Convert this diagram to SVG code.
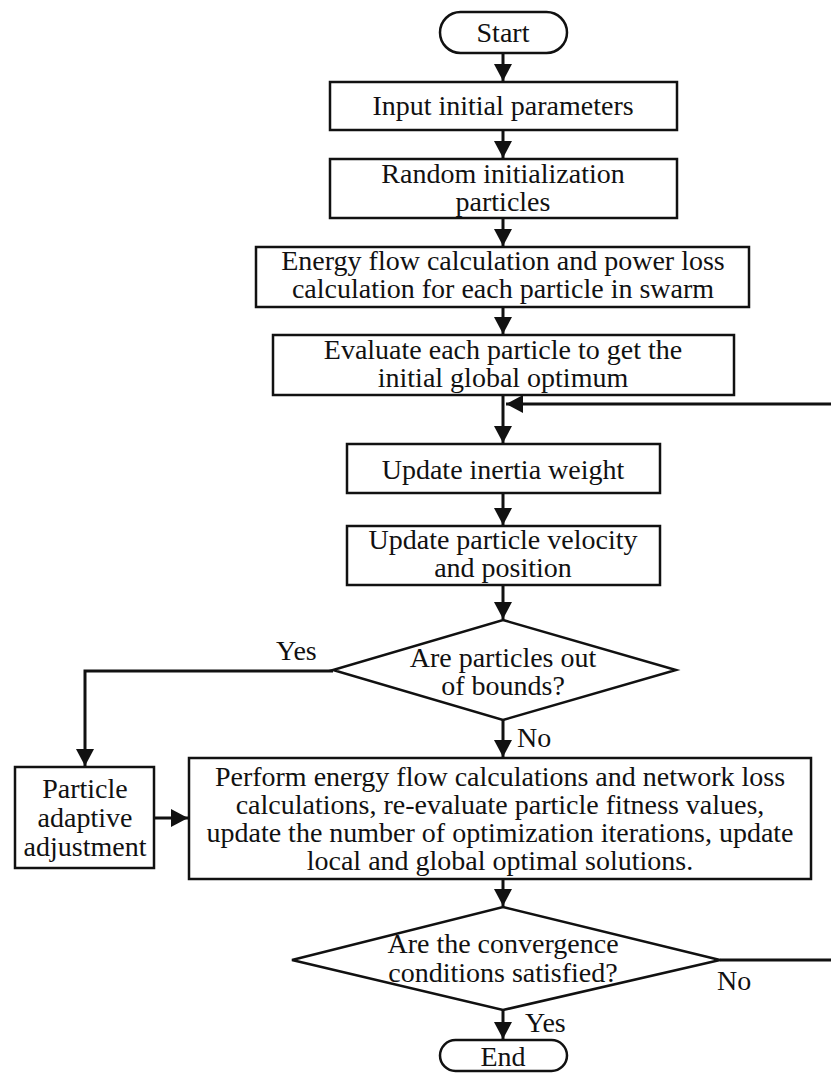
<svg xmlns="http://www.w3.org/2000/svg" width="831" height="1073" viewBox="0 0 831 1073">
  <style>
    .box { fill: #ffffff; stroke: #111111; stroke-width: 2.5; }
    .link { fill: none; stroke: #111111; stroke-width: 3; }
    text { font-family: "Liberation Serif", "Times New Roman", serif; font-size: 28px; fill: #111111; text-anchor: middle; }
    .lbl { text-anchor: start; }
  </style>
  <defs>
    <marker id="arrow" markerUnits="userSpaceOnUse" markerWidth="18" markerHeight="18" refX="17" refY="9" orient="auto">
      <path d="M0,0 L17,9 L0,18 z" fill="#111111"/>
    </marker>
  </defs>
  <rect width="831" height="1073" fill="#ffffff"/>

  <!-- connectors -->
  <g id="connectors">
    <path class="link" d="M503,53 V81" marker-end="url(#arrow)"/>
    <path class="link" d="M503,130 V158" marker-end="url(#arrow)"/>
    <path class="link" d="M503,218 V246" marker-end="url(#arrow)"/>
    <path class="link" d="M503,307 V334" marker-end="url(#arrow)"/>
    <path class="link" d="M503,395 V443" marker-end="url(#arrow)"/>
    <path class="link" d="M503,493 V525" marker-end="url(#arrow)"/>
    <path class="link" d="M503,585 V619" marker-end="url(#arrow)"/>
    <path class="link" d="M503,720 V757" marker-end="url(#arrow)"/>
    <path class="link" d="M333,671 H85 V766" marker-end="url(#arrow)"/>
    <path class="link" d="M154,818 H188" marker-end="url(#arrow)"/>
    <path class="link" d="M503,879 V906" marker-end="url(#arrow)"/>
    <path class="link" d="M503,1010 V1039" marker-end="url(#arrow)"/>
    <!-- loop back from the convergence check -->
    <path class="link" d="M720,960 H836 V404 H506" marker-end="url(#arrow)"/>
    <text class="lbl" x="276" y="660">Yes</text>
    <text class="lbl" x="517" y="747">No</text>
    <text class="lbl" x="717" y="990">No</text>
    <text class="lbl" x="525" y="1032">Yes</text>
  </g>

  <g id="start">
    <rect class="box" x="440" y="12" width="127" height="41" rx="20.5"/>
    <text x="503" y="42">Start</text>
  </g>
  <g id="input">
    <rect class="box" x="330" y="82" width="347" height="48"/>
    <text x="503" y="115">Input initial parameters</text>
  </g>
  <g id="random-init">
    <rect class="box" x="330" y="159" width="347" height="59"/>
    <text x="503" y="183">Random initialization</text>
    <text x="503" y="211">particles</text>
  </g>
  <g id="energy-flow">
    <rect class="box" x="256" y="247" width="493" height="60"/>
    <text x="503" y="270">Energy flow calculation and power loss</text>
    <text x="503" y="298">calculation for each particle in swarm</text>
  </g>
  <g id="evaluate">
    <rect class="box" x="273" y="335" width="461" height="60"/>
    <text x="503" y="359">Evaluate each particle to get the</text>
    <text x="503" y="387">initial global optimum</text>
  </g>
  <g id="inertia">
    <rect class="box" x="347" y="444" width="313" height="49"/>
    <text x="503" y="479">Update inertia weight</text>
  </g>
  <g id="velocity">
    <rect class="box" x="347" y="526" width="313" height="59"/>
    <text x="503" y="549">Update particle velocity</text>
    <text x="503" y="577">and position</text>
  </g>
  <g id="bounds-check">
    <polygon class="box" points="503,620 676,670 503,720 333,670"/>
    <text x="503" y="667">Are particles out</text>
    <text x="503" y="695">of bounds?</text>
  </g>
  <g id="adaptive">
    <rect class="box" x="15" y="767" width="139" height="101"/>
    <text x="85" y="798">Particle</text>
    <text x="85" y="827">adaptive</text>
    <text x="85" y="856">adjustment</text>
  </g>
  <g id="update-solutions">
    <rect class="box" x="189" y="758" width="622" height="121"/>
    <text x="500" y="786">Perform energy flow calculations and network loss</text>
    <text x="500" y="814">calculations, re-evaluate particle fitness values,</text>
    <text x="500" y="842">update the number of optimization iterations, update</text>
    <text x="500" y="870">local and global optimal solutions.</text>
  </g>
  <g id="convergence-check">
    <polygon class="box" points="503,907 720,960 503,1010 292,960"/>
    <text x="503" y="953">Are the convergence</text>
    <text x="503" y="982">conditions satisfied?</text>
  </g>
  <g id="end">
    <rect class="box" x="440" y="1040" width="127" height="31" rx="15.5"/>
    <text x="503" y="1066">End</text>
  </g>
</svg>
